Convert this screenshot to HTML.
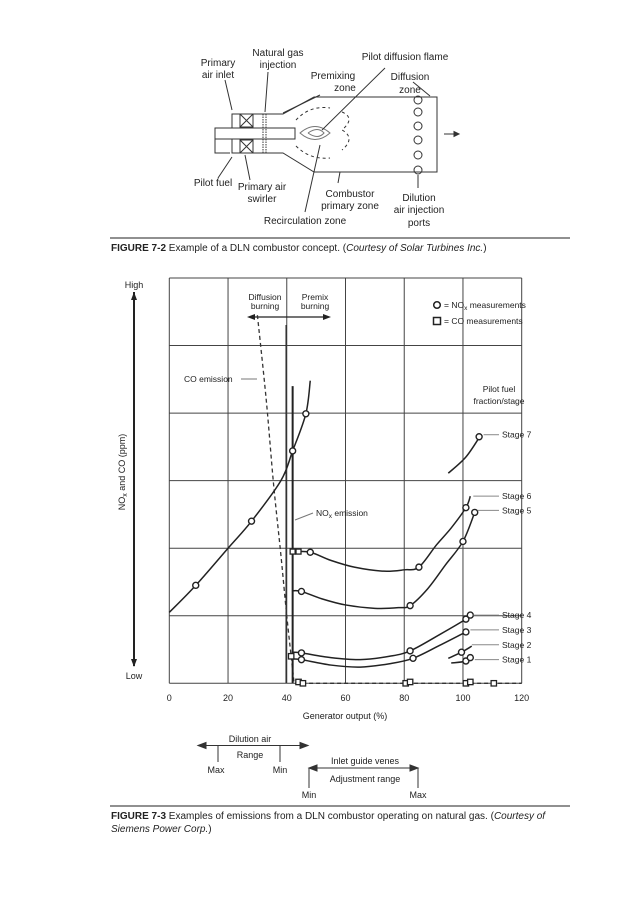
<!DOCTYPE html>
<html><head><meta charset="utf-8"><style>
body{margin:0;background:#fff;}
svg{display:block;font-family:"Liberation Sans",sans-serif;}
text{fill:#222;}
</style></head><body>
<svg width="621" height="900" viewBox="0 0 621 900" xmlns="http://www.w3.org/2000/svg">
<rect width="621" height="900" fill="#fff"/>
<!-- Combustor diagram -->
<g stroke="#333" fill="none" stroke-width="1">
  <path d="M314,97 L437,97 L437,172 L314,172 L283,153 L232,153 L232,114 L283,114 Z"/>
  <rect x="215" y="128" width="80" height="11" fill="#fff"/>
  <path d="M215,139 L215,153 L230,153"/>
  <rect x="240" y="114" width="13" height="13"/><path d="M240,114 L253,127 M253,114 L240,127"/>
  <rect x="240" y="140" width="13" height="13"/><path d="M240,140 L253,153 M253,140 L240,153"/>
  <path d="M263,114 V153 M266,114 V153" stroke-dasharray="1.5 1"/>
  <path d="M300,133 Q315,120 330,133 Q315,146 300,133 Z" stroke="#777"/>
  <path d="M308,133 Q318,126 324,133 Q318,140 308,133" stroke="#777"/>
  <path d="M296,120 Q310,105 330,108 M296,146 Q310,160 330,158 M342,112 Q356,118 342,130 Q356,138 342,150" stroke-dasharray="3 3"/>
  <circle cx="418" cy="100" r="4"/><circle cx="418" cy="112" r="4"/><circle cx="418" cy="126" r="4"/><circle cx="418" cy="140" r="4"/><circle cx="418" cy="155" r="4"/><circle cx="418" cy="170" r="4"/>
  <path d="M444,134 L455,134"/>
  <path d="M459,134 l-5,-2.5 v5 z" fill="#333"/>
  <path d="M232,110 L225,80 M265,112 L268,72 M283,113 L320,95 M322,130 L385,68 M430,96 L413,82 M232,157 L218,178 M245,155 L250,180 M320,145 L305,212 M340,172 L338,183 M418,175 L418,188"/>
</g>
<g font-size="10" text-anchor="middle">
  <text x="218" y="66">Primary</text><text x="218" y="78">air inlet</text>
  <text x="278" y="56">Natural gas</text><text x="278" y="68">injection</text>
  <text x="333" y="79">Premixing</text><text x="345" y="91">zone</text>
  <text x="405" y="60">Pilot diffusion flame</text>
  <text x="410" y="80">Diffusion</text><text x="410" y="93">zone</text>
  <text x="213" y="186">Pilot fuel</text>
  <text x="262" y="190">Primary air</text><text x="262" y="202">swirler</text>
  <text x="350" y="197">Combustor</text><text x="350" y="209">primary zone</text>
  <text x="419" y="201">Dilution</text><text x="419" y="213">air injection</text><text x="419" y="226">ports</text>
  <text x="305" y="224">Recirculation zone</text>
</g>
<line x1="110" y1="238" x2="570" y2="238" stroke="#222" stroke-width="1"/>
<text x="111" y="251" font-size="10"><tspan font-weight="bold">FIGURE 7-2</tspan>   Example of a DLN combustor concept. (<tspan font-style="italic">Courtesy of Solar Turbines Inc.</tspan>)</text>

<g id="chart"></g>

<g stroke="#333" fill="none">
  <path d="M200,745.5 L306,745.5 M218,745 V762 M280,745 V762 M310,768 L416,768 M309,768 V788 M418,768 V788"/>
  <path d="M198,745.5 l8,-3 v6 z M308,745.5 l-8,-3 v6 z M309,768 l8,-3 v6 z M418,768 l-8,-3 v6 z" fill="#333"/>
</g>
<g font-size="9" text-anchor="middle">
  <text x="250" y="742">Dilution air</text><text x="250" y="758">Range</text>
  <text x="216" y="773">Max</text><text x="280" y="773">Min</text>
  <text x="365" y="764">Inlet guide venes</text><text x="365" y="782">Adjustment range</text>
  <text x="309" y="798">Min</text><text x="418" y="798">Max</text>
</g>
<line x1="110" y1="806" x2="570" y2="806" stroke="#222" stroke-width="1"/>
<text x="111" y="819" font-size="10"><tspan font-weight="bold">FIGURE 7-3</tspan>   Examples of emissions from a DLN combustor operating on natural gas. (<tspan font-style="italic">Courtesy of</tspan></text>
<text x="111" y="832" font-size="10" font-style="italic">Siemens Power Corp.<tspan font-style="normal">)</tspan></text>
</svg>
<script>
const xTicks=[0,20,40,60,80,100,120];
const yGridLevels=[0,1,2,3,4,5,6];
const leftCurve=[[0,1.05],[9,1.45],[20,2.0],[28,2.4],[38,3.0],[42,3.44],[46.5,3.99],[48,4.48]];
const leftCircles=[[9,1.45],[28,2.4],[42,3.44],[46.5,3.99]];
const coCurve=[[30,5.45],[33,4.2],[35.5,2.95],[38,1.9],[40,1.0],[42,0.2],[42.5,0]];
const coSquaresX=[41.5,44,45.5,80.5,82,101,102.5,110.5];
const coSquaresY=[0.4,0.02,0,0,0.02,0,0.02,0];
const stage6=[[42,1.95],[48,1.94],[55,1.82],[63,1.72],[73,1.66],[80,1.68],[85,1.72],[91,2.05],[96,2.3],[101,2.6],[102.5,2.77]];
const stage6Marks=[[48,1.94],[85,1.72],[101,2.6]];
const stage5=[[42,1.37],[45,1.36],[52,1.25],[60,1.16],[70,1.11],[78,1.12],[82,1.15],[88,1.4],[94,1.75],[100,2.1],[104,2.53]];
const stage5Marks=[[45,1.36],[82,1.15],[100,2.1],[104,2.53]];
const stage4=[[42,0.46],[45,0.45],[55,0.38],[65,0.35],[75,0.4],[82,0.48],[92,0.72],[101,0.95],[102.5,1.01]];
const stage4Marks=[[45,0.45],[82,0.48],[101,0.95],[102.5,1.01]];
const stage3=[[42,0.36],[45,0.35],[55,0.27],[65,0.24],[75,0.29],[83,0.37],[92,0.56],[101,0.76]];
const stage3Marks=[[45,0.35],[83,0.37],[101,0.76]];
const stage2=[[95,0.37],[99.5,0.46],[103,0.55]];
const stage2Marks=[[99.5,0.46]];
const stage1=[[96,0.3],[101,0.33],[103,0.42]];
const stage1Marks=[[101,0.33],[102.5,0.38]];
const stage7=[[95,3.11],[101,3.35],[106,3.67]];
const stage7Marks=[[105.5,3.65]];
const stageLabels=["Stage 7","Stage 6","Stage 5","Stage 4","Stage 3","Stage 2","Stage 1"];
const stageLabelY=[3.68,2.77,2.56,1.01,0.79,0.57,0.35];
const stageLeadX=[106,102.5,104,102.5,101.5,102,103];

const NS="http://www.w3.org/2000/svg";
const g=document.getElementById('chart');
const X=v=>169.3+v*(521.7-169.3)/120;
const Y=v=>683.3-v*(683.3-278)/6;
function mk(tag,attrs,parent){const e=document.createElementNS(NS,tag);for(const k in attrs)e.setAttribute(k,attrs[k]);(parent||g).appendChild(e);return e;}
function spline(pts){const p=pts.map(q=>[X(q[0]),Y(q[1])]);let d="M"+p[0][0]+","+p[0][1];
 for(let i=0;i<p.length-1;i++){const p0=p[i-1]||p[i],p1=p[i],p2=p[i+1],p3=p[i+2]||p2;
  d+=" C"+(p1[0]+(p2[0]-p0[0])/6)+","+(p1[1]+(p2[1]-p0[1])/6)+" "+(p2[0]-(p3[0]-p1[0])/6)+","+(p2[1]-(p3[1]-p1[1])/6)+" "+p2[0]+","+p2[1];}
 return d;}
yGridLevels.forEach(v=>{const l=mk('line',{x1:X(0),x2:X(120),y1:Y(v),y2:Y(v),stroke:'#444','stroke-width':1});

});
xTicks.forEach(v=>{const l=mk('line',{x1:X(v),x2:X(v),y1:Y(0),y2:Y(6),stroke:'#444','stroke-width':1});


const t=mk('text',{x:X(v),y:701,'font-size':9,'text-anchor':'middle'});t.textContent=v;

});
let t=mk('text',{x:345,y:719,'font-size':9,'text-anchor':'middle'});t.textContent="Generator output (%)";


t=mk('text',{x:134,y:288,'font-size':9,'text-anchor':'middle'});t.textContent="High";


t=mk('text',{x:134,y:679,'font-size':9,'text-anchor':'middle'});t.textContent="Low";


let a=mk('path',{d:'M134,292 V666',stroke:'#222','stroke-width':2,fill:'none'});


mk('path',{d:'M134,292 l-3,8 h6 z M134,667 l-3,-8 h6 z',fill:'#222'});
t=mk('text',{x:0,y:0,'font-size':9,'text-anchor':'middle',transform:'translate(125,472) rotate(-90)'});
t.innerHTML='NO<tspan font-size="7" dy="2">x</tspan><tspan dy="-2"> and CO (ppm)</tspan>';


[["Diffusion",265,300],["burning",265,309],["Premix",315,300],["burning",315,309]].forEach(s=>{const e=mk('text',{x:s[1],y:s[2],'font-size':8.5,'text-anchor':'middle'});e.textContent=s[0];

});
mk('path',{d:'M250,317 H328',stroke:'#222','stroke-width':1.3});
mk('path',{d:'M247,317 l8,-3 v6 z M331,317 l-8,-3 v6 z',fill:'#222'});
mk('path',{d:'M286,325 V683',stroke:'#222','stroke-width':1});
mk('circle',{cx:437,cy:305,r:3.3,fill:'#fff',stroke:'#222','stroke-width':1.5});
mk('rect',{x:433.5,y:317.5,width:7,height:7,fill:'#fff',stroke:'#222','stroke-width':1.5});
t=mk('text',{x:444,y:308,'font-size':8.5});t.innerHTML='= NO<tspan font-size="6.5" dy="2">x</tspan><tspan dy="-2"> measurements</tspan>';


t=mk('text',{x:444,y:324,'font-size':8.5});t.textContent='= CO measurements';


t=mk('text',{x:184,y:382,'font-size':8.5});t.textContent='CO emission';


mk('path',{d:'M241,379 H257',stroke:'#777'});
t=mk('text',{x:316,y:516,'font-size':8.5});t.innerHTML='NO<tspan font-size="6.5" dy="2">x</tspan><tspan dy="-2"> emission</tspan>';


mk('path',{d:'M295,520 L313,513',stroke:'#777'});
t=mk('text',{x:499,y:392,'font-size':8.5,'text-anchor':'middle'});t.textContent='Pilot fuel';


t=mk('text',{x:499,y:404,'font-size':8.5,'text-anchor':'middle'});t.textContent='fraction/stage';


let c=mk('path',{d:spline(coCurve)+" L"+X(120)+","+Y(0),stroke:'#333','stroke-width':1.3,fill:'none','stroke-dasharray':'4 3'});


mk('path',{d:'M'+X(42)+','+Y(4.4)+' V'+Y(0),stroke:'#222','stroke-width':2});
[[leftCurve,leftCircles,'nox-diffusion-curve'],[stage6,stage6Marks,'stage-6-curve'],[stage5,stage5Marks,'stage-5-curve'],[stage4,stage4Marks,'stage-4-curve'],[stage3,stage3Marks,'stage-3-curve'],[stage2,stage2Marks,'stage-2-curve'],[stage1,stage1Marks,'stage-1-curve'],[stage7,stage7Marks,'stage-7-curve']].forEach(s=>{
 const p=mk('path',{d:spline(s[0]),stroke:'#222','stroke-width':1.5,fill:'none'});
 
 
 s[1].forEach(m=>{const ci=mk('circle',{cx:X(m[0]),cy:Y(m[1]),r:3,fill:'#fff',stroke:'#222','stroke-width':1.4});
 
 });
});
[[42,1.95],[44,1.95]].forEach(m=>mk('rect',{x:X(m[0])-2.5,y:Y(m[1])-2.5,width:5,height:5,fill:'#fff',stroke:'#222','stroke-width':1.3}));
coSquaresX.forEach((v,i)=>{const r=mk('rect',{x:X(v)-2.7,y:Y(coSquaresY[i])-2.7,width:5.4,height:5.4,fill:'#fff',stroke:'#222','stroke-width':1.3});

});
stageLabels.forEach((s,i)=>{const ty=Y(stageLabelY[i]);
 mk('path',{d:'M'+(X(stageLeadX[i])+3)+','+ty+' H499',stroke:'#888'});
 const e=mk('text',{x:502,y:ty+3,'font-size':8.5});e.textContent=s;
 
 });
</script>
</body></html>
